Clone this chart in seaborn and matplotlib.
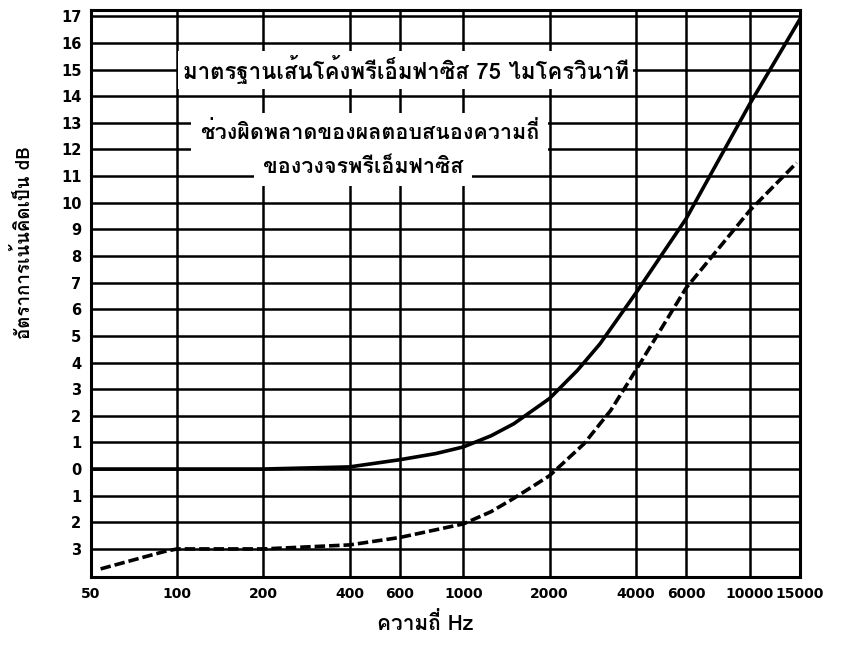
import numpy as np
import pandas as pd
import matplotlib
matplotlib.use("Agg")
import matplotlib.pyplot as plt
import seaborn as sns
from matplotlib import font_manager
from matplotlib.ft2font import FT2Font

# values
freq_solid = [50, 100, 200, 400, 600, 800, 1000, 1250, 1500, 2000, 2500, 3000, 4000, 6000, 10000, 15000]
db_solid = [0.0, 0.0, 0.0, 0.08, 0.35, 0.58, 0.83, 1.25, 1.7, 2.65, 3.7, 4.7, 6.6, 9.4, 13.7, 16.9]

freq_dash = [54, 90, 100, 200, 400, 600, 1000, 1250, 1500, 2000, 2640, 3270, 4000, 6000, 10000, 14600]
db_dash = [-3.75, -3.1, -3.0, -3.0, -2.85, -2.57, -2.06, -1.6, -1.1, -0.25, 0.95, 2.2, 3.7, 6.8, 9.7, 11.5]

x_ticks = [50, 100, 200, 400, 600, 1000, 2000, 4000, 6000, 10000, 15000]
y_ticks = list(range(-3, 18))
y_labels = [str(abs(v)) for v in y_ticks]

label_std = "มาตรฐานเส้นโค้งพรีเอ็มฟาซิส 75 ไมโครวินาที"
label_tol1 = "ช่วงผิดพลาดของผลตอบสนองความถี่"
label_tol2 = "ของวงจรพรีเอ็มฟาซิส"
xlab = "ความถี่ Hz"
ylab = "อัตราการเน้นคิดเป็น dB"


def find_thai_font():
    # look for any installed font that has Thai glyphs
    found = []
    for f in font_manager.fontManager.ttflist:
        try:
            cmap = FT2Font(f.fname).get_charmap()
        except Exception:
            continue
        if 0x0E01 in cmap and 0x0E48 in cmap:
            found.append(f)
    if not found:
        return None
    found.sort(key=lambda f: 0 if str(f.weight) in ("bold", "700") else 1)
    return found[0].name


sns.set_style("white")
thai = find_thai_font()
fams = [thai, "DejaVu Sans"] if thai else ["DejaVu Sans"]
plt.rcParams["font.family"] = fams
plt.rcParams["text.color"] = "black"
plt.rcParams["axes.labelcolor"] = "black"
plt.rcParams["xtick.color"] = "black"
plt.rcParams["ytick.color"] = "black"

fig = plt.figure(figsize=(8.43, 6.46), dpi=100)
ax = fig.add_axes([0.108, 0.107, 0.841, 0.878])

df_s = pd.DataFrame({"f": freq_solid, "db": db_solid})
df_d = pd.DataFrame({"f": freq_dash, "db": db_dash})
sns.lineplot(data=df_s, x="f", y="db", color="black", lw=2.6, ax=ax, zorder=4)
sns.lineplot(data=df_d, x="f", y="db", color="black", lw=2.6, ax=ax, zorder=4,
             linestyle=(0, (2.9, 1.1)))

ax.set_xscale("log")
ax.set_xlim(50, 15000)
ax.set_ylim(-4.05, 17.25)
ax.set_xticks(x_ticks)
ax.set_xticklabels([str(v) for v in x_ticks])
ax.minorticks_off()
ax.set_yticks(y_ticks)
ax.set_yticklabels(y_labels)
ax.tick_params(axis="x", length=0, labelsize=10, pad=7)
ax.tick_params(axis="y", length=0, labelsize=10.5, pad=7)
for t in ax.get_xticklabels() + ax.get_yticklabels():
    t.set_fontweight("bold")
    t.set_family(["DejaVu Sans"])

ax.set_axisbelow(True)
ax.grid(True, color="black", lw=1.8)
for s in ax.spines.values():
    s.set_color("black")
    s.set_linewidth(2.2)

ax.text(630, 15.0, label_std, ha="center", va="center", fontsize=16,
        fontweight="bold", zorder=3,
        bbox=dict(facecolor="white", edgecolor="none", boxstyle="square,pad=0.2"))
ax.text(470, 12.65, label_tol1, ha="center", va="center", fontsize=15.5,
        fontweight="bold", zorder=3,
        bbox=dict(facecolor="white", edgecolor="none", boxstyle="square,pad=0.4"))
ax.text(446, 11.33, label_tol2, ha="center", va="center", fontsize=15.5,
        fontweight="bold", zorder=3,
        bbox=dict(facecolor="white", edgecolor="none", boxstyle="square,pad=0.4"))

ax.set_xlabel(xlab, fontsize=15, fontweight="bold")
ax.set_ylabel(ylab, fontsize=13.5, fontweight="bold")
ax.xaxis.set_label_coords(0.471, -0.062)
ax.yaxis.set_label_coords(-0.08, 0.59)

fig.savefig("out.png", dpi=100)
